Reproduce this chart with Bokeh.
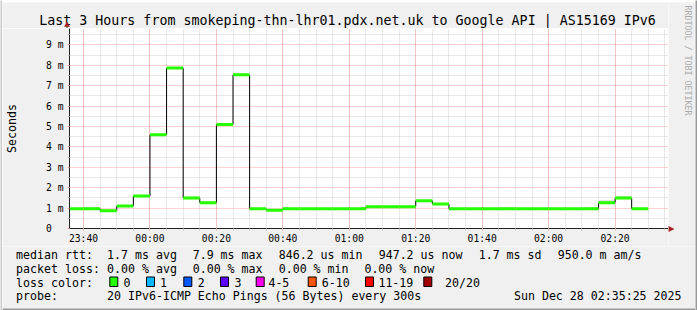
import math
import pandas as pd
from bokeh.plotting import figure
from bokeh.layouts import row, column
from bokeh.models import Range1d, FixedTicker, DatetimeTickFormatter
from bokeh.core.properties import value
from bokeh.embed import file_html
from bokeh.resources import INLINE

# ---------------- data ----------------
day_before = "2025-12-27"
day_after = "2025-12-28"
slot_start = ["23:35", "23:40", "23:45", "23:50", "23:55",
              "00:00", "00:05", "00:10", "00:15", "00:20", "00:25",
              "00:30", "00:35", "00:40", "00:45", "00:50", "00:55",
              "01:00", "01:05", "01:10", "01:15", "01:20", "01:25",
              "01:30", "01:35", "01:40", "01:45", "01:50", "01:55",
              "02:00", "02:05", "02:10", "02:15", "02:20", "02:25", "02:30"]
slot_end_last = "02:35"
median_ms = [0.97, 0.97, 0.87, 1.10, 1.59,
             4.59, 7.86, 1.49, 1.26, 5.10, 7.53,
             0.97, 0.90, 0.97, 0.97, 0.97, 0.97,
             0.97, 1.07, 1.07, 1.07, 1.36, 1.20,
             0.97, 0.97, 0.97, 0.97, 0.97, 0.97,
             0.97, 0.97, 0.97, 1.26, 1.49, 0.97, None]
smoke_lo_ms = [0.93, 0.93, 0.84, 1.06, 1.55,
               4.55, 7.82, 1.45, 1.22, 5.06, 7.49,
               0.93, 0.86, 0.93, 0.93, 0.93, 0.93,
               0.93, 1.03, 1.03, 1.03, 1.32, 1.16,
               0.93, 0.93, 0.93, 0.93, 0.93, 0.93,
               0.93, 0.93, 0.93, 1.22, 1.45, 0.93, None]
smoke_hi_ms = [1.01, 1.07, 0.93, 1.14, 1.63,
               4.63, 7.90, 1.57, 1.30, 5.14, 7.57,
               1.01, 0.94, 1.01, 1.01, 1.01, 1.01,
               1.01, 1.11, 1.12, 1.12, 1.40, 1.24,
               1.01, 1.01, 1.01, 1.05, 1.01, 1.01,
               1.01, 1.01, 1.05, 1.39, 1.59, 1.01, None]
loss_count = [0, 0, 0, 0, 0, 0, 0, 0, 0, 0, 0, 0, 0, 0, 0, 0, 0, 0,
              0, 0, 0, 0, 0, 0, 0, 0, 0, 0, 0, 0, 0, 0, 0, 0, 0, None]

loss_labels = ["0", "1", "2", "3", "4-5", "6-10", "11-19", "20/20"]
loss_upper = [0, 1, 2, 3, 5, 10, 19, 20]
loss_colors = ["#26ff00", "#00b8ff", "#0059ff", "#5e00ff", "#ff00f0",
               "#ff5500", "#ff0000", "#a10000"]

x_tick_labels = ["23:40", "00:00", "00:20", "00:40", "01:00",
                 "01:20", "01:40", "02:00", "02:20"]
y_tick_values = [0, 1, 2, 3, 4, 5, 6, 7, 8, 9]
y_tick_labels = ["0", "1 m", "2 m", "3 m", "4 m", "5 m", "6 m", "7 m", "8 m", "9 m"]
y_minor_values = [0.5, 1.5, 2.5, 3.5, 4.5, 5.5, 6.5, 7.5, 8.5, 9.5]

x_view_start = "2025-12-27 23:35:47"
x_view_end = "2025-12-28 02:36:05"
y_view_end = 9.8

title_text = "Last 3 Hours from smokeping-thn-lhr01.pdx.net.uk to Google API | AS15169 IPv6"
side_text = "RRDTOOL / TOBI OETIKER"
y_label = "Seconds"
rtt_head = "median rtt:"
rtt_items = ["1.7 ms avg", "7.9 ms max", "846.2 us min", "947.2 us now",
             "1.7 ms sd", "950.0 m am/s"]
loss_head = "packet loss:"
loss_items = ["0.00 % avg", "0.00 % max", "0.00 % min", "0.00 % now"]
color_head = "loss color:"
probe_head = "probe:"
probe_text = "20 IPv6-ICMP Echo Pings (56 Bytes) every 300s"
stamp_text = "Sun Dec 28 02:35:25 2025"


def to_ms(hhmm):
    day = day_before if int(hhmm[:2]) >= 12 else day_after
    return pd.Timestamp(f"{day} {hhmm}").value / 1e6


starts = [to_ms(s) for s in slot_start]
ends = starts[1:] + [to_ms(slot_end_last)]


def loss_color(n):
    for up, c in zip(loss_upper, loss_colors):
        if n <= up:
            return c
    return loss_colors[-1]


valid = [i for i, v in enumerate(median_ms) if v is not None]

mono = "DejaVu Sans Mono"
BACK = "#f0f0f0"
SHADE_A = "#cbcbcb"
SHADE_B = "#999999"
ARROW = "#a52020"
MID = 0.297  # em offset between baseline and em-square middle


def no_align(f):
    if "frame_align" in f.properties():
        f.frame_align = False
    return f


def canvas_fig(w, h, x0, x1, y_top, y_bottom, color):
    """A figure whose frame is its whole canvas, in page-pixel coordinates."""
    f = figure(width=w, height=h, output_backend="svg", toolbar_location=None,
               x_range=Range1d(x0, x1), y_range=Range1d(y_bottom, y_top),
               x_axis_location=None, y_axis_location=None, min_border=0)
    f.background_fill_color = color
    f.border_fill_color = color
    f.outline_line_color = None
    f.grid.visible = False
    return no_align(f)


def put_text(f, xs, baselines, texts, size, align="left", color="#000000"):
    f.text(x=xs, y=[b - MID * size for b in baselines], text=texts,
           text_font=value(mono), text_font_size=value(f"{size}px"),
           text_baseline="middle", text_align=align, text_color=color)


# ---------------- title strip (page pixels 2..668 x 2..28) ----------------
FRAME_TOP = 28
head = canvas_fig(666, FRAME_TOP - 2, 2, 668, 2, FRAME_TOP, BACK)
put_text(head, [38.8], [24.0], [title_text], 13.3)
head.segment(x0=[66.5], x1=[66.5], y0=[25.0], y1=[28.0], line_color="#333333",
             line_width=1)
head.patch(x=[64.0, 66.5, 69.0], y=[26.0, 21.5, 26.0], fill_color=ARROW,
           line_color=ARROW, line_width=0.5)

# ---------------- main chart ----------------
MAIN_W, MAIN_H = 666, 246 - FRAME_TOP
p = figure(width=MAIN_W, height=MAIN_H, output_backend="svg", toolbar_location=None,
           x_axis_type="datetime",
           x_range=Range1d(pd.Timestamp(x_view_start).value / 1e6,
                           pd.Timestamp(x_view_end).value / 1e6),
           y_range=Range1d(0, y_view_end),
           min_border_left=65, min_border_right=0, min_border_top=0,
           min_border_bottom=18)
no_align(p)
p.background_fill_color = "white"
p.border_fill_color = BACK
p.outline_line_color = None

x_ticks = [to_ms(s) for s in x_tick_labels]
p.xaxis.ticker = FixedTicker(ticks=x_ticks, minor_ticks=starts + [ends[-1]])
p.xaxis.formatter = DatetimeTickFormatter(minsec="%H:%M", minutes="%H:%M",
                                          hourmin="%H:%M", hours="%H:%M",
                                          days="%H:%M", boundary_scaling=False)
p.yaxis.ticker = FixedTicker(ticks=y_tick_values, minor_ticks=y_minor_values)
p.yaxis.major_label_overrides = {
    v: (lab if " " in lab else lab + "\u00a0\u00a0")
    for v, lab in zip(y_tick_values, y_tick_labels)}

for ax in (p.xaxis[0], p.yaxis[0]):
    ax.axis_line_color = "#222222"
    ax.axis_line_width = 1
    ax.major_tick_in = 0
    ax.major_tick_out = 2
    ax.minor_tick_in = 0
    ax.minor_tick_out = 2
    ax.major_tick_line_color = "#f2a0a0"
    ax.minor_tick_line_color = "#cccccc"
    ax.major_label_text_font = mono
    ax.major_label_text_font_size = "9.7px"
    ax.major_label_text_color = "#000000"
p.xaxis.major_label_standoff = 2
p.yaxis.major_label_standoff = 4
p.yaxis.axis_label = y_label
p.yaxis.axis_label_text_font = mono
p.yaxis.axis_label_text_font_size = "11.6px"
p.yaxis.axis_label_text_font_style = "normal"
p.yaxis.axis_label_text_color = "#000000"
p.yaxis.axis_label_standoff = 24

for g in (p.xgrid[0], p.ygrid[0]):
    g.grid_line_color = "#ff5f5f"
    g.grid_line_alpha = 0.55
    g.grid_line_dash = "1 1"
    g.minor_grid_line_color = "#c0c0c0"
    g.minor_grid_line_alpha = 0.75
    g.minor_grid_line_dash = "1 1"
p.xgrid[0].ticker = p.xaxis[0].ticker
p.ygrid[0].ticker = p.yaxis[0].ticker

# smoke
p.quad(left=[starts[i] for i in valid], right=[ends[i] for i in valid],
       bottom=[smoke_lo_ms[i] for i in valid], top=[smoke_hi_ms[i] for i in valid],
       fill_color="#d9d9d9", line_color=None)

# vertical transitions (black)
vx, vy0, vy1 = [], [], []
for a, b in zip(valid[:-1], valid[1:]):
    vx.append(starts[b]); vy0.append(median_ms[a]); vy1.append(median_ms[b])
p.segment(x0=vx, x1=vx, y0=vy0, y1=vy1, line_color="#000000", line_width=1)

# median line coloured by loss
p.segment(x0=[starts[i] for i in valid], x1=[ends[i] for i in valid],
          y0=[median_ms[i] for i in valid], y1=[median_ms[i] for i in valid],
          line_color=[loss_color(loss_count[i]) for i in valid], line_width=3)

# ---------------- right strip beside the chart (page pixels) ----------------
side = canvas_fig(27, 244, 668, 695, 2, 246, BACK)
side.text(x=[687.7], y=[5.0], text=[side_text], text_font=value(mono),
          text_font_size=value("8.3px"), text_baseline="middle", text_align="left",
          angle=-math.pi / 2, text_color="#aaaaaa")
side.patch(x=[668.0, 673.5, 668.0], y=[225.8, 228.5, 231.2],
           fill_color=ARROW, line_color=ARROW, line_width=0.5)

# ---------------- legend strip (page pixels) ----------------
LEG_TOP = 246
lg = canvas_fig(693, 310 - LEG_TOP, 2, 695, LEG_TOP, 310, BACK)

rows_y = [258.0, 271.7, 285.5, 299.2]
head_x = 15.6
tx = [head_x] + [106.6, 192.2, 278.2, 378.2, 478.2, 557.2]
ty = [rows_y[0]] * 7
tt = [rtt_head] + rtt_items
tx += [head_x, 106.6, 192.2, 278.2, 363.9]
ty += [rows_y[1]] * 5
tt += [loss_head] + loss_items
sq_x = [109.3, 146.0, 183.3, 220.0, 255.7, 307.7, 365.0, 423.3]
lab_x = [122.9, 159.4, 197.2, 233.9, 267.9, 321.2, 377.9, 444.6]
tx += [head_x] + lab_x
ty += [rows_y[2]] * 9
tt += [color_head] + loss_labels
tx += [head_x, 106.6]
ty += [rows_y[3]] * 2
tt += [probe_head, probe_text]

put_text(lg, tx, ty, tt, 11.6)
put_text(lg, [681.0], [rows_y[3]], [stamp_text], 11.6, align="right")
lg.quad(left=sq_x, right=[x + 8 for x in sq_x], top=[276.5] * len(sq_x),
        bottom=[286.0] * len(sq_x), fill_color=loss_colors, line_color="#000000",
        line_width=1)
lg.quad(left=[2], right=[695], top=[308], bottom=[310], fill_color=SHADE_B,
        line_color=None)

layout = row(canvas_fig(2, 310, 0, 1, 0, 1, SHADE_A),
             column(canvas_fig(693, 2, 0, 1, 0, 1, SHADE_A),
                    row(column(head, p), side),
                    lg),
             canvas_fig(2, 310, 0, 1, 0, 1, SHADE_B))

open("out.html", "w").write(file_html(layout, INLINE))
